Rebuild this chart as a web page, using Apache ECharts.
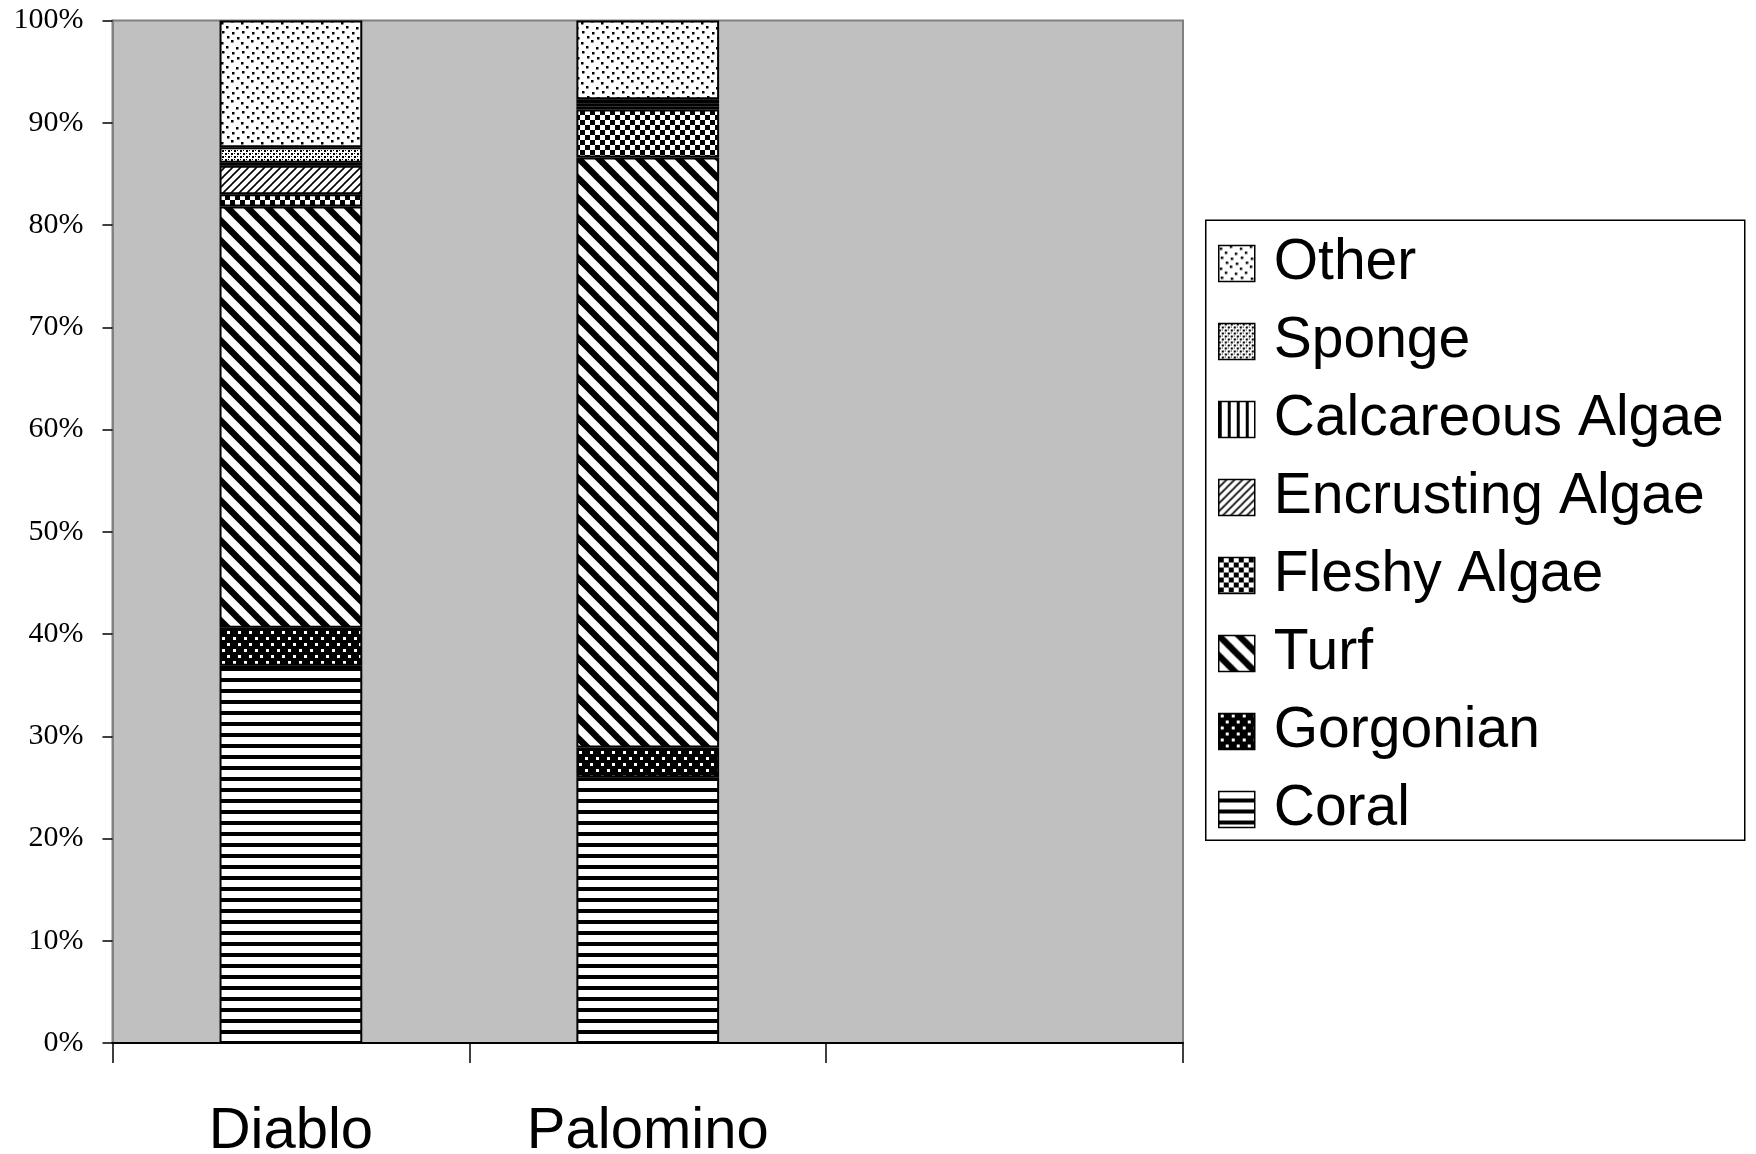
<!DOCTYPE html>
<html><head><meta charset="utf-8">
<script src="https://cdn.jsdelivr.net/npm/echarts@6/dist/echarts.min.js"></script>
<style>html,body{margin:0;padding:0;background:#fff}#c{width:1756px;height:1154px}</style>
</head><body><div id="c"></div>
<script>
const categories = ['Diablo', 'Palomino', ''];
const coral      = [36.9, 26.0, null];
const gorgonian  = [3.7, 2.9, null];
const turf       = [41.2, 57.7, null];
const fleshy     = [1.2, 4.7, null];
const encrusting = [2.8, 0.3, null];
const calcareous = [0.3, 0.3, null];
const sponge     = [1.5, 0.4, null];
const other      = [12.4, 7.7, null];
const yTicks = [0, 10, 20, 30, 40, 50, 60, 70, 80, 90, 100];

function tile(w, h, draw) {
  const c = document.createElement('canvas');
  c.width = w; c.height = h;
  const g = c.getContext('2d');
  g.fillStyle = '#fff'; g.fillRect(0, 0, w, h);
  g.fillStyle = '#000'; g.strokeStyle = '#000';
  draw(g, w, h);
  return { image: c, repeat: 'repeat' };
}
const pat = {
  coral: tile(11, 11, g => g.fillRect(0, 7, 11, 4)),
  gorgonian: tile(11, 12, g => { g.fillRect(0,0,11,12); g.fillStyle='#fff'; g.fillRect(2,1,3,3); g.fillRect(7,7,3,3); }),
  turf: tile(20, 20, g => { g.lineWidth = 6.5; for (let k=-1;k<=1;k++){ g.beginPath(); g.moveTo(-5, -5 + k*20); g.lineTo(25, 25 + k*20); g.stroke(); } }),
  fleshy: tile(10, 10, g => { g.fillRect(0,0,5,5); g.fillRect(5,5,5,5); }),
  encrusting: tile(8, 8, g => { g.lineWidth = 1.6; for (let k=0;k<=2;k++){ g.beginPath(); g.moveTo(-2, k*8+2); g.lineTo(k*8+2, -2); g.stroke(); } }),
  calcareous: tile(9, 9, g => g.fillRect(0, 0, 3, 9)),
  sponge: tile(6, 6, g => { g.fillRect(0,0,2,2); g.fillRect(3,3,2,2); g.fillRect(3,0,1,1); g.fillRect(0,3,1,1); }),
  other: tile(20, 20, g => { [[1,2],[11,0],[6,6],[16,7],[2,11],[12,12],[7,16],[17,17]].forEach(p => g.fillRect(p[0], p[1], 2.5, 2.5)); })
};

const seriesDefs = [
  ['Coral', coral, pat.coral],
  ['Gorgonian', gorgonian, pat.gorgonian],
  ['Turf', turf, pat.turf],
  ['Fleshy Algae', fleshy, pat.fleshy],
  ['Encrusting Algae', encrusting, pat.encrusting],
  ['Calcareous Algae', calcareous, pat.calcareous],
  ['Sponge', sponge, pat.sponge],
  ['Other', other, pat.other]
];

const chart = echarts.init(document.getElementById('c'), null, { renderer: 'canvas' });
chart.setOption({
  animation: false,
  backgroundColor: '#fff',
  grid: { left: 112.5, right: 573, top: 20.5, bottom: 111, containLabel: false, outerBoundsMode: 'none', show: true, backgroundColor: '#C0C0C0', borderColor: '#808080', borderWidth: 2 },
  graphic: [{ type: 'rect', left: 1205, top: 219.5, shape: { width: 539, height: 620 }, style: { fill: '#fff', stroke: '#000', lineWidth: 1.5 }, z: -1 }],
  legend: {
    orient: 'vertical', left: 1213, top: 230,
    data: seriesDefs.map(s => s[0]).reverse(),
    itemWidth: 36, itemHeight: 36, itemGap: 21,
    icon: 'rect',
    itemStyle: { borderColor: '#000', borderWidth: 1.5 },
    textStyle: { fontFamily: 'Liberation Sans, Arial', fontSize: 57, color: '#000', lineHeight: 56, padding: [0, 0, 0, 14] }
  },
  xAxis: {
    type: 'category', data: categories,
    axisLine: { lineStyle: { color: '#000', width: 2 } },
    axisTick: { show: true, length: 20, lineStyle: { color: '#000', width: 1.5 } },
    axisLabel: { margin: 60, fontFamily: 'Liberation Sans, Arial', fontSize: 58, color: '#000', interval: 0 }
  },
  yAxis: {
    type: 'value', min: 0, max: 100, interval: 10,
    axisLine: { show: true, lineStyle: { color: '#808080', width: 2 } },
    axisTick: { show: true, length: 10, lineStyle: { color: '#000', width: 1.5 } },
    splitLine: { show: false },
    axisLabel: { margin: 29, fontFamily: 'Liberation Serif, Times New Roman', fontSize: 30, color: '#000', formatter: v => yTicks.includes(v) ? v + '%' : '' }
  },
  series: seriesDefs.map(s => ({
    name: s[0], type: 'bar', stack: 'total', data: s[1], barWidth: '40%',
    itemStyle: { color: s[2], borderColor: '#000', borderWidth: 2 }
  }))
});
</script></body></html>
